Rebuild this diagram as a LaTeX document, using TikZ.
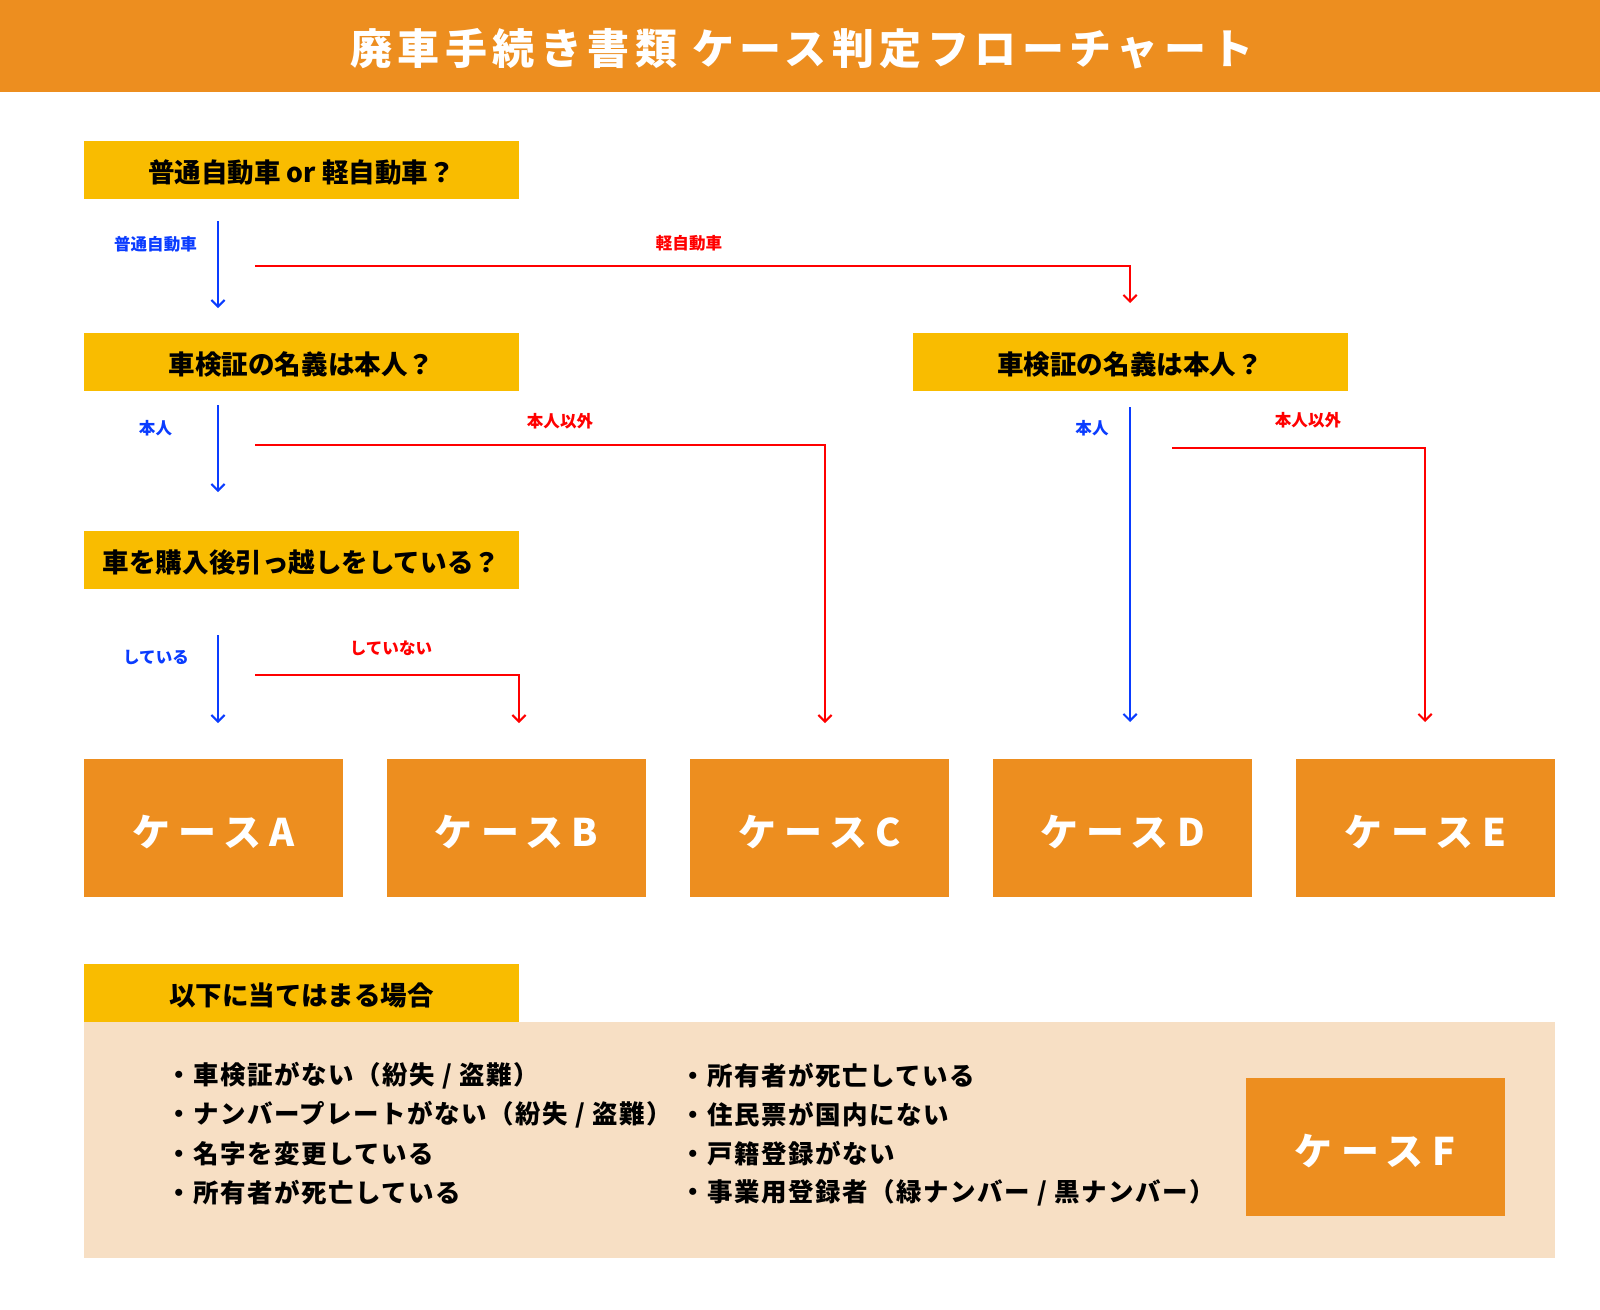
\documentclass[tikz,border=0pt]{standalone}
\usepackage{fontspec}
\setmainfont{Noto Sans CJK JP}
\newfontfamily\titlefont[LetterSpace=13]{Noto Sans CJK JP}
\newfontfamily\casefont[LetterSpace=22]{Noto Sans CJK JP}
\newfontfamily\itemfont[LetterSpace=6]{Noto Sans CJK JP}
\usetikzlibrary{arrows.meta, positioning}
\definecolor{headorange}{HTML}{ED8E1F}
\definecolor{qyellow}{HTML}{F9BC00}
\definecolor{panelbeige}{HTML}{F7DFC4}
\definecolor{yesblue}{HTML}{0A3CFF}
\definecolor{nored}{HTML}{FF0000}
\tikzset{%
  x=0.75pt, y=-0.75pt, % one unit is one pixel of the chart, y runs down
  >={Straight Barb[length=5pt, width=10pt]}, % thin open arrow heads
  % question boxes
  qbox/.style={rectangle, fill=qyellow, inner sep=0pt, minimum width=326.25pt, minimum height=43.5pt,
    text height=19.9pt, text depth=0.8pt, font=\bfseries\fontsize{19.9}{24}\selectfont},
  % result boxes
  casebox/.style={rectangle, fill=headorange, inner sep=0pt, minimum width=194.25pt, minimum height=103.5pt,
    text height=28.5pt, text depth=1pt, text=white, font=\casefont\bfseries\fontsize{28.5}{34}\selectfont},
  % answers
  yesline/.style={->, draw=yesblue, line width=1.5pt},
  noline/.style={->, draw=nored, line width=1.5pt},
  yeslbl/.style={text=yesblue, font=\bfseries\fontsize{12.4}{15}\selectfont, inner sep=0pt},
  nolbl/.style={text=nored, font=\bfseries\fontsize{12.4}{15}\selectfont, inner sep=0pt},
  itemtxt/.style={anchor=west, inner sep=0pt, font=\itemfont\bfseries\fontsize{19.1}{23}\selectfont}
}
\begin{document}
\begin{tikzpicture}
  \useasboundingbox (0,0) rectangle (1600,1310);
  % title bar
  \fill[headorange] (0,0) rectangle (1600,92);
  \node[text=white, font=\titlefont\bfseries\fontsize{31.5}{36}\selectfont] (title) at (802,49) {廃車手続き書類 ケース判定フローチャート};

  % questions
  \node[qbox] (q1) at (301.5,170) {普通自動車 or 軽自動車？};
  \node[qbox] (q2l) at (301.5,362) {車検証の名義は本人？};
  \node[qbox] (q2r) at (1130,362) {車検証の名義は本人？};
  \node[qbox] (q3) at (301.5,560) {車を購入後引っ越しをしている？};

  % cases A to E
  \foreach \c [count=\i from 0] in {A,B,C,D,E} {
    \node[casebox] (case\c) at (213.5+303*\i,828) {ケース\c};
  }

  % answer arrows
  \coordinate (y1s) at (218,221);  \coordinate (y1e) at (218,308);
  \coordinate (n1s) at (255,266);  \coordinate (n1e) at (1130,303);
  \coordinate (y2s) at (218,405);  \coordinate (y2e) at (218,492);
  \coordinate (n2s) at (255,445);  \coordinate (n2e) at (825,723);
  \coordinate (y3s) at (218,635);  \coordinate (y3e) at (218,723);
  \coordinate (n3s) at (255,675);  \coordinate (n3e) at (519,723);
  \coordinate (y4s) at (1130,407); \coordinate (y4e) at (1130,722);
  \coordinate (n4s) at (1172,448); \coordinate (n4e) at (1425,722);
  \draw[yesline] (y1s) -- (y1e);
  \draw[noline] (n1s) -| (n1e);
  \draw[yesline] (y2s) -- (y2e);
  \draw[noline] (n2s) -| (n2e);
  \draw[yesline] (y3s) -- (y3e);
  \draw[noline] (n3s) -| (n3e);
  \draw[yesline] (y4s) -- (y4e);
  \draw[noline] (n4s) -| (n4e);

  \node[yeslbl] (l1) at (155.5,244) {普通自動車};
  \node[nolbl] (l2) at (689,243) {軽自動車};
  \node[yeslbl] (l3) at (155.5,428) {本人};
  \node[nolbl] (l4) at (560,421) {本人以外};
  \node[yeslbl] (l5) at (156,657) {している};
  \node[nolbl] (l6) at (391,648) {していない};
  \node[yeslbl] (l7) at (1092,428) {本人};
  \node[nolbl] (l8) at (1308,420) {本人以外};

  % other cases
  \fill[panelbeige] (84,1022) rectangle (1555,1258);
  \node[qbox] (qf) at (301.5,993) {以下に当てはまる場合};
  \foreach \t [count=\i from 0] in {車検証がない（紛失 / 盗難）, ナンバープレートがない（紛失 / 盗難）, 名字を変更している, 所有者が死亡している} {
    \node[itemtxt] (a\i) at (166,1076+39*\i) {・\t};
  }
  \foreach \t [count=\i from 0] in {所有者が死亡している, 住民票が国内にない, 戸籍登録がない, 事業用登録者（緑ナンバー / 黒ナンバー）} {
    \node[itemtxt] (b\i) at (680,1076+39*\i) {・\t};
  }
  \node[casebox] (caseF) at (1375,1147) {ケースF};
\end{tikzpicture}
\end{document}
